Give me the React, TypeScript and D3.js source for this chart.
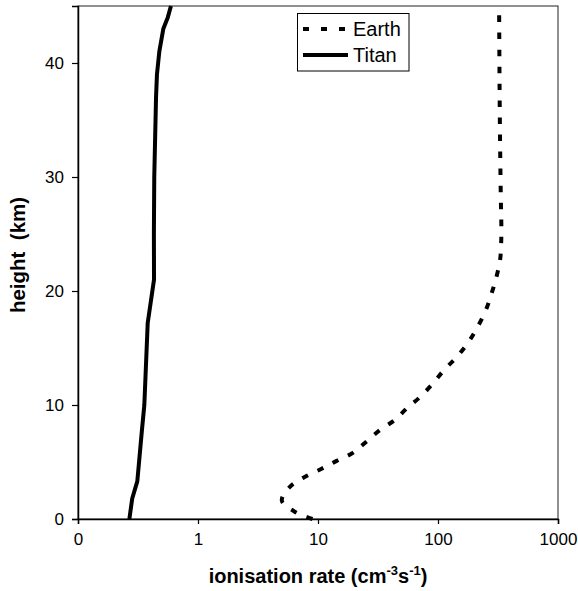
import * as d3 from "d3";
import { useEffect, useRef } from "react";

// heights in km, rates in cm^-3 s^-1
const titanHeight = [0, 1.8, 3.3, 7.5, 10, 17.2, 21, 25, 30, 37, 39, 41, 43, 44, 45];
const titanRate = [0.268, 0.283, 0.312, 0.339, 0.357, 0.381, 0.43, 0.429, 0.432, 0.447, 0.455, 0.476, 0.514, 0.56, 0.595];

const earthHeight = [0, 0.6, 1.6, 2.8, 3.7, 4.4, 5.1, 5.8, 6.8, 7.8, 8.7, 9.7, 10.7, 11.9, 13.1, 14.2, 15.4, 16.7, 18.3, 19.8, 21.3, 22.7, 24.2, 26, 28, 32, 36, 40, 45];
const earthRate = [9.0, 6.5, 5.0, 5.8, 7.8, 10.7, 14.3, 19.5, 25.4, 32.8, 43.8, 54.8, 70.8, 91, 113, 143, 176, 210, 250, 280, 308, 329, 336, 337, 334, 330, 327, 325, 323];

const xTicks = [0.1, 1, 10, 100, 1000];
const xTickLabels = ["0", "1", "10", "100", "1000"];
const yTicks = [0, 10, 20, 30, 40];

const legendNames = ["Earth", "Titan"];

export default function App() {
  const ref = useRef<SVGSVGElement>(null);

  useEffect(() => {
    if (!ref.current) return;
    const svg = d3.select(ref.current);
    svg.selectAll("*").remove();

    const width = 578,
      height = 591,
      margin = { top: 6, right: 20, bottom: 72, left: 78 };
    const font = "'Liberation Sans', Arial, sans-serif";

    const x = d3
      .scaleLog()
      .domain([0.1, 1000])
      .range([margin.left, width - margin.right]);
    const y = d3
      .scaleLinear()
      .domain([0, 45])
      .range([height - margin.bottom, margin.top]);

    // plot frame
    svg.append("rect")
      .attr("x", margin.left)
      .attr("y", margin.top)
      .attr("width", width - margin.right - margin.left)
      .attr("height", height - margin.bottom - margin.top)
      .attr("fill", "none")
      .attr("stroke", "#222")
      .attr("stroke-width", 1);

    const titan: [number, number][] = titanRate.map((r, i) => [r, titanHeight[i]]);
    const earth: [number, number][] = earthRate.map((r, i) => [r, earthHeight[i]]);

    svg.append("path")
      .attr("d", d3.line<[number, number]>().x((d) => x(d[0])).y((d) => y(d[1]))(titan))
      .attr("fill", "none")
      .attr("stroke", "#000")
      .attr("stroke-width", 4)
      .attr("stroke-linejoin", "round");

    svg.append("path")
      .attr("d", d3.line<[number, number]>()
        .x((d) => x(d[0]))
        .y((d) => y(d[1]))
        .curve(d3.curveCatmullRom)(earth))
      .attr("fill", "none")
      .attr("stroke", "#000")
      .attr("stroke-width", 4)
      .attr("stroke-dasharray", "6.5,10.5");

    // X-axis
    const xAxis = svg.append("g")
      .attr("transform", `translate(0, ${height - margin.bottom})`)
      .call(
        d3.axisBottom(x)
          .tickValues(xTicks)
          .tickSize(5)
          .tickFormat((d, i) => xTickLabels[i])
      );
    xAxis.select(".domain").attr("stroke-width", 1.5);
    xAxis.selectAll(".tick line").attr("stroke-width", 1.2);
    xAxis.selectAll("text")
      .attr("fill", "#000")
      .attr("font-family", font)
      .attr("font-size", "17px")
      .attr("dy", "1.05em");

    // Y-axis
    const yAxis = svg.append("g")
      .attr("transform", `translate(${margin.left}, 0)`)
      .call(d3.axisLeft(y).tickValues(yTicks).tickSize(6).tickPadding(8));
    yAxis.select(".domain").attr("stroke-width", 1.5);
    yAxis.selectAll(".tick line").attr("stroke-width", 1.2);
    yAxis.selectAll("text")
      .attr("fill", "#000")
      .attr("font-family", font)
      .attr("font-size", "17px");
    svg.selectAll(".domain").attr("stroke", "#000");

    // axis titles
    const xt = svg.append("text")
      .attr("x", 318)
      .attr("y", 583)
      .attr("text-anchor", "middle")
      .attr("font-family", font)
      .attr("font-size", "20px")
      .attr("font-weight", "bold")
      .attr("fill", "#000");
    xt.append("tspan").text("ionisation rate (cm");
    xt.append("tspan").attr("font-size", "13px").attr("dy", "-8").text("-3");
    xt.append("tspan").attr("dy", "8").text("s");
    xt.append("tspan").attr("font-size", "13px").attr("dy", "-8").text("-1");
    xt.append("tspan").attr("dy", "8").text(")");

    svg.append("text")
      .attr("transform", "rotate(-90)")
      .attr("x", -255)
      .attr("y", 25)
      .attr("text-anchor", "middle")
      .attr("font-family", font)
      .attr("font-size", "20.5px")
      .attr("font-weight", "bold")
      .attr("fill", "#000")
      .attr("xml:space", "preserve")
      .text("height  (km)");

    // legend
    const lg = svg.append("g");
    lg.append("rect")
      .attr("x", 297.5)
      .attr("y", 13.5)
      .attr("width", 111.5)
      .attr("height", 57.5)
      .attr("fill", "#fff")
      .attr("stroke", "#000")
      .attr("stroke-width", 1);
    legendNames.forEach((name, i) => {
      const cy = 29 + i * 26;
      lg.append("line")
        .attr("x1", 303)
        .attr("x2", i === 0 ? 346 : 348)
        .attr("y1", cy)
        .attr("y2", cy)
        .attr("stroke", "#000")
        .attr("stroke-width", 4)
        .attr("stroke-dasharray", i === 0 ? "6,12" : null);
      lg.append("text")
        .attr("x", 353)
        .attr("y", cy)
        .attr("dy", "0.36em")
        .attr("font-family", font)
        .attr("font-size", "20px")
        .attr("fill", "#000")
        .text(name);
    });
  }, []);

  return (
    <svg
      ref={ref}
      width={578}
      height={591}
      style={{ position: "absolute", left: 0, top: 0, background: "#fff" }}
    />
  );
}
